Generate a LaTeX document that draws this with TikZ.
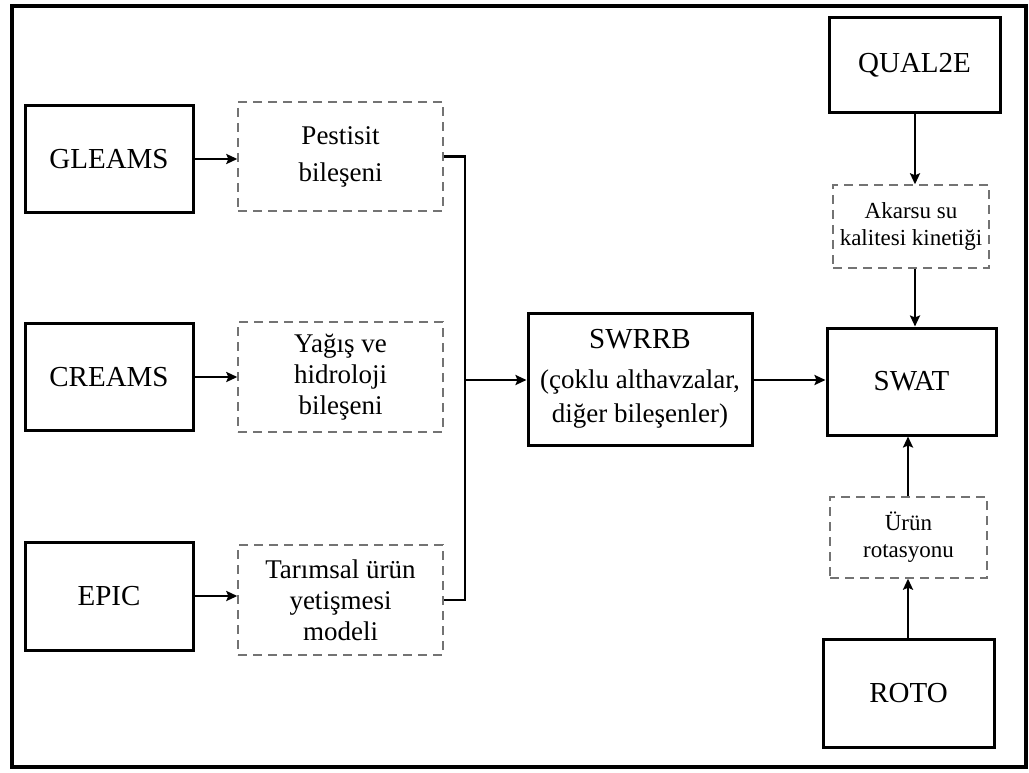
\documentclass[tikz,border=0pt]{standalone}
\usepackage{fontspec}
\setmainfont{Liberation Serif}
\usetikzlibrary{arrows.meta}
\begin{document}
\begin{tikzpicture}[x=1pt,y=-1pt,
  solidbox/.style={draw=black,line width=3pt,rectangle,inner sep=0pt,align=center,
    font=\fontsize{29}{34}\selectfont},
  dashbox/.style={draw=black!55,line width=1.4pt,dash pattern=on 9pt off 6pt,rectangle,
    inner sep=0pt,align=center,font=\fontsize{27}{31}\selectfont},
  smalldash/.style={dashbox,font=\fontsize{23}{27}\selectfont},
  link/.style={line width=2.4pt,-{Stealth[length=11pt,width=10pt,inset=2pt]}},
  busline/.style={line width=2.4pt}]
\useasboundingbox (0,0) rectangle (1029,773);
% outer frame
\draw[line width=4pt] (12,6) rectangle (1026,767);

% source models
\node[solidbox,minimum width=168pt,minimum height=107pt] (gleams) at (109,159) {GLEAMS};
\node[solidbox,minimum width=168pt,minimum height=107pt] (creams) at (109,377) {CREAMS};
\node[solidbox,minimum width=168pt,minimum height=108pt] (epic) at (109,596) {EPIC};

% components
\node[dashbox,minimum width=205pt,minimum height=109pt,font=\fontsize{27}{37}\selectfont]
  (pest) at (240.5+100,156.5) {Pestisit\\bileşeni};
\node[dashbox,minimum width=205pt,minimum height=110pt] (yag) at (340.5,377) {Yağış ve\\hidroloji\\bileşeni};
\node[dashbox,minimum width=205pt,minimum height=110pt] (tar) at (340.5,600) {Tarımsal ürün\\yetişmesi\\modeli};

% central models
\node[solidbox,minimum width=224pt,minimum height=132pt,align=center] (swrrb) at (640,379)
  {SWRRB\\[6pt]{\fontsize{27}{29}\selectfont (çoklu althavzalar,}\\{\fontsize{27}{29}\selectfont diğer bileşenler)}};
\node[solidbox,minimum width=169pt,minimum height=107pt] (swat) at (911.5,381.5) {SWAT};

% right column
\node[solidbox,minimum width=171pt,minimum height=95pt] (qual) at (914.5,65) {QUAL2E};
\node[smalldash,minimum width=156pt,minimum height=83pt] (aka) at (911,226.5) {Akarsu su\\kalitesi kinetiği};
\node[smalldash,minimum width=157pt,minimum height=81pt] (urun) at (908.5,537.5) {Ürün\\rotasyonu};
\node[solidbox,minimum width=171pt,minimum height=108pt] (roto) at (908.5,693) {ROTO};

% connectors
\coordinate (bus) at (465,380);
\draw[link] (gleams.east) -- (gleams.east -| pest.west);
\draw[link] (creams.east) -- (creams.east -| yag.west);
\draw[link] (epic.east) -- (epic.east -| tar.west);
\draw[busline] (pest.east) -- (pest.east -| bus) -- (tar.east -| bus) -- (tar.east);
\draw[link] (bus) -- (bus -| swrrb.west);
\draw[link] (swrrb.east |- bus) -- (swat.west |- bus);
\coordinate (qx) at (915,0);
\draw[link] (qual.south -| qx) -- (aka.north -| qx);
\draw[link] (aka.south -| qx) -- (swat.north -| qx);
\coordinate (rx) at (908,0);
\draw[link] (roto.north -| rx) -- (urun.south -| rx);
\draw[link] (urun.north -| rx) -- (swat.south -| rx);
\end{tikzpicture}
\end{document}
